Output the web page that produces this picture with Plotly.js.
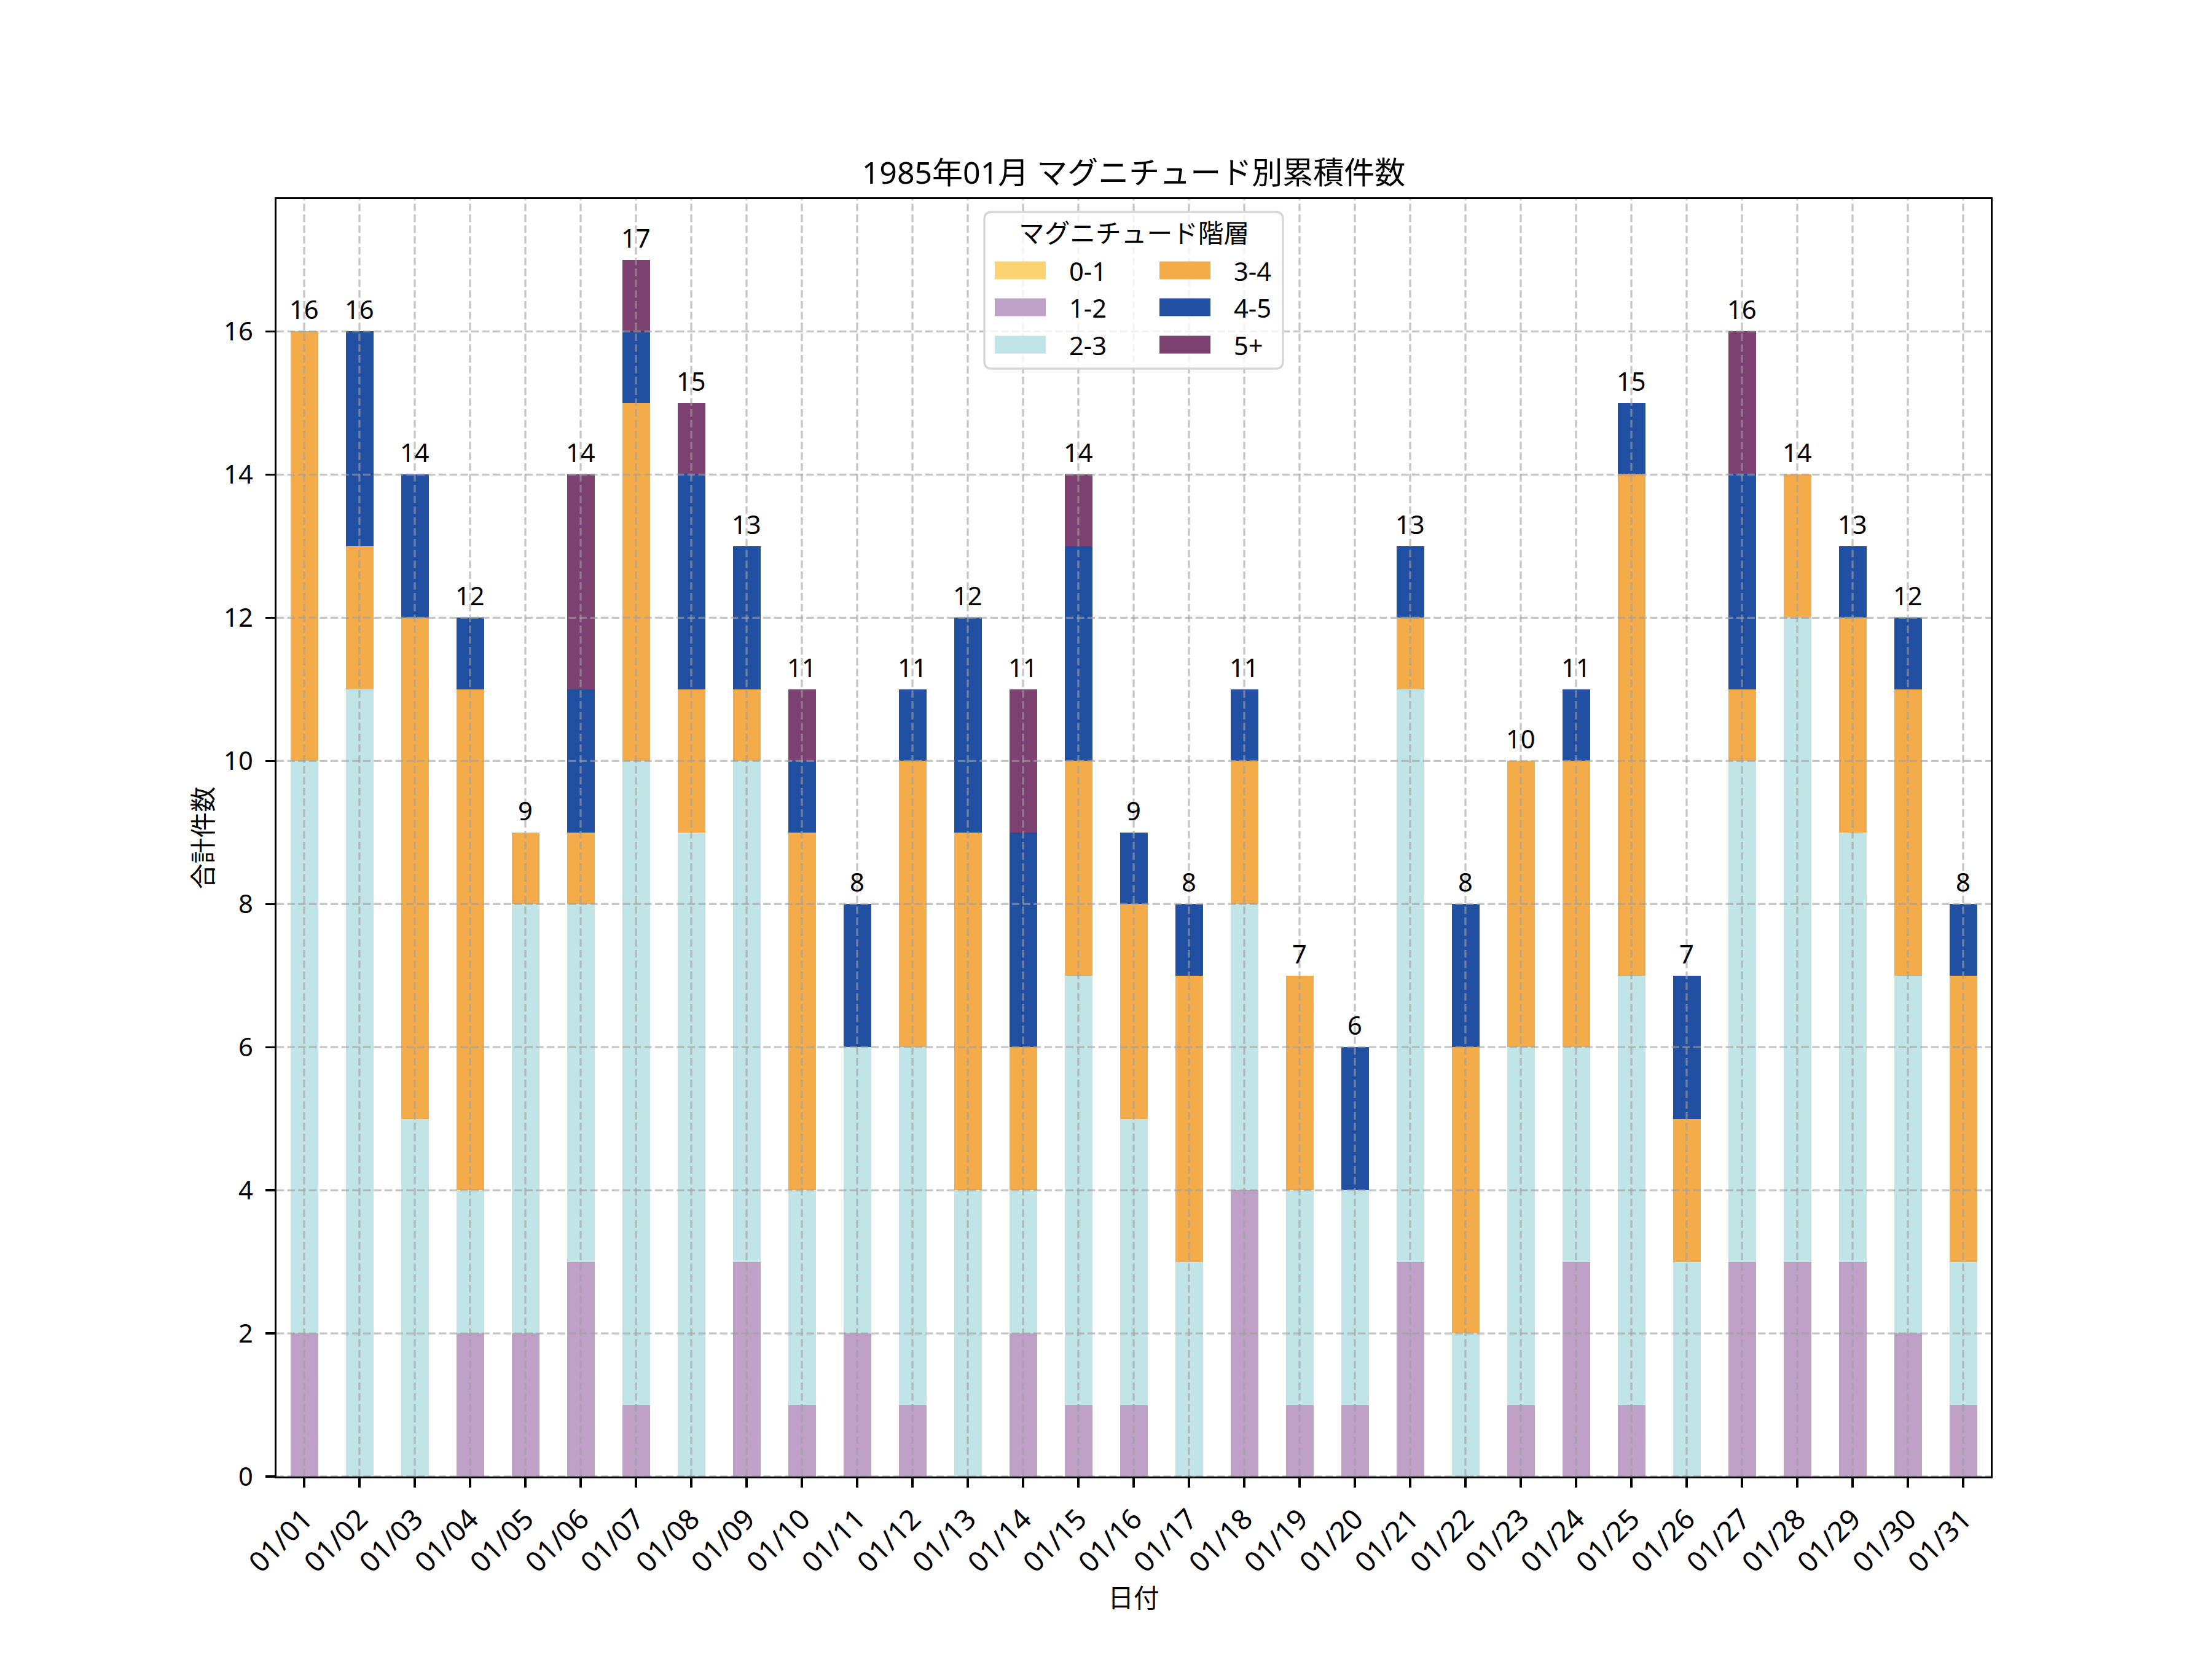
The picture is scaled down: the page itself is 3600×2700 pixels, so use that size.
<!DOCTYPE html>
<html>
<head>
<meta charset="utf-8">
<script src="https://cdn.plot.ly/plotly-3.0.1.min.js"></script>
<style>html,body{margin:0;padding:0;background:#fff;}#chart{width:3600px;height:2700px;}</style>
</head>
<body>
<div id="chart"></div>
<script>
const dates = ['01/01','01/02','01/03','01/04','01/05','01/06','01/07','01/08','01/09','01/10',
  '01/11','01/12','01/13','01/14','01/15','01/16','01/17','01/18','01/19','01/20',
  '01/21','01/22','01/23','01/24','01/25','01/26','01/27','01/28','01/29','01/30','01/31'];
const seriesNames = ['0-1','1-2','2-3','3-4','4-5','5+'];
const seriesColors = ['#FBD373','#BFA1C7','#C1E4E7','#F4AC4A','#2150A2','#7C4170'];
const mag01 = [0,0,0,0,0,0,0,0,0,0,0,0,0,0,0,0,0,0,0,0,0,0,0,0,0,0,0,0,0,0,0];
const mag12 = [2,0,0,2,2,3,1,0,3,1,2,1,0,2,1,1,0,4,1,1,3,0,1,3,1,0,3,3,3,2,1];
const mag23 = [8,11,5,2,6,5,9,9,7,3,4,5,4,2,6,4,3,4,3,3,8,2,5,3,6,3,7,9,6,5,2];
const mag34 = [6,2,7,7,1,1,5,2,1,5,0,4,5,2,3,3,4,2,3,0,1,4,4,4,7,2,1,2,3,4,4];
const mag45 = [0,3,2,1,0,2,1,3,2,1,2,1,3,3,3,1,1,1,0,2,1,2,0,1,1,2,3,0,1,1,1];
const mag5p = [0,0,0,0,0,3,1,1,0,1,0,0,0,2,1,0,0,0,0,0,0,0,0,0,0,0,2,0,0,0,0];
const yTicks = [0,2,4,6,8,10,12,14,16];
const titleText = '1985年01月 マグニチュード別累積件数';
const xTitle = '日付';
const yTitle = '合計件数';
const legendTitle = 'マグニチュード階層';

const FONT = '"Noto Sans", "Noto Sans CJK JP", sans-serif';
const FS = 41.7;
const W = 3600, H = 2700;
const L = 450, R = 3240, T = 324, B = 2403;
const PW = R - L, PH = B - T;
const px = x => (x - L) / PW;
const py = y => (B - y) / PH;

const allSeries = [mag01, mag12, mag23, mag34, mag45, mag5p];
const totals = dates.map((d, i) => allSeries.reduce((s, arr) => s + arr[i], 0));

const traces = allSeries.map((vals, k) => ({
  type: 'bar', x: dates, y: vals, name: seriesNames[k],
  marker: {color: seriesColors[k], line: {width: 0}},
  showlegend: false, hoverinfo: 'skip'
}));

const gridColor = 'rgba(160,160,160,0.6)';
const gridDash = '12.3px,5.3px';
const shapes = [];
dates.forEach((d, i) => shapes.push({type:'line', layer:'above', xref:'x', yref:'paper', x0:i, x1:i, y0:0, y1:1,
  line:{color:gridColor, width:3.3, dash:gridDash}}));
yTicks.forEach(v => shapes.push({type:'line', layer:'above', xref:'paper', yref:'y', x0:0, x1:1, y0:v, y1:v,
  line:{color:gridColor, width:3.3, dash:gridDash}}));

// legend frame (rounded)
const lx0 = 1602, lx1 = 2088, ly0 = 345, ly1 = 600, rr = 12;
const P = (x, y) => `${px(x)},${py(y)}`;
shapes.push({type:'path', layer:'above', xref:'paper', yref:'paper',
  path: `M ${P(lx0+rr,ly0)} L ${P(lx1-rr,ly0)} Q ${P(lx1,ly0)} ${P(lx1,ly0+rr)} L ${P(lx1,ly1-rr)} Q ${P(lx1,ly1)} ${P(lx1-rr,ly1)} L ${P(lx0+rr,ly1)} Q ${P(lx0,ly1)} ${P(lx0,ly1-rr)} L ${P(lx0,ly0+rr)} Q ${P(lx0,ly0)} ${P(lx0+rr,ly0)} Z`,
  fillcolor:'rgba(255,255,255,0.8)', line:{color:'#d6d6d6', width:3.3}});

const annotations = [];
// legend entries: column-major, 3 rows
const colSwX = [1619, 1887], colTxtX = [1738, 2006];
const rowY = [440, 500, 561];
seriesNames.forEach((n, k) => {
  const c = Math.floor(k / 3), r = k % 3;
  shapes.push({type:'rect', layer:'above', xref:'paper', yref:'paper',
    x0:px(colSwX[c]), x1:px(colSwX[c]+83), y0:py(rowY[r]-14.5), y1:py(rowY[r]+14.5),
    fillcolor:seriesColors[k], line:{width:0}});
  annotations.push({xref:'paper', yref:'paper', x:px(colTxtX[c]), y:py(rowY[r]), text:n,
    showarrow:false, xanchor:'left', yanchor:'middle', font:{family:FONT, size:FS, color:'#000'}});
});
annotations.push({xref:'paper', yref:'paper', x:px(1845), y:py(378), text:legendTitle,
  showarrow:false, xanchor:'center', yanchor:'middle', font:{family:FONT, size:FS, color:'#000'}});

// totals above bars
dates.forEach((d, i) => annotations.push({x:d, y:totals[i], xref:'x', yref:'y', text:String(totals[i]),
  showarrow:false, xanchor:'center', yanchor:'bottom', yshift:6, font:{family:FONT, size:FS, color:'#000'}}));

const layout = {
  width: W, height: H,
  margin: {l:L, r:W-R, t:T, b:H-B, pad:0},
  paper_bgcolor:'#fff', plot_bgcolor:'#fff',
  barmode:'stack', bargap:0.5,
  showlegend:false,
  font:{family:FONT, size:FS, color:'#000'},
  title:{text:titleText, x:0.5, xref:'paper', xanchor:'center', y:1-281/H, yanchor:'middle',
    font:{family:FONT, size:50, color:'#000'}},
  xaxis:{type:'category', range:[-0.5, 30.5], tickangle:-45, showgrid:false, zeroline:false,
    showline:true, mirror:true, linecolor:'#000', linewidth:3.3,
    ticks:'outside', ticklen:14.6, tickwidth:3.3, tickcolor:'#000', ticklabelstandoff:6,
    tickfont:{family:FONT, size:46, color:'#000'},
    title:{text:xTitle, standoff:0, font:{family:FONT, size:FS, color:'#000'}}},
  yaxis:{range:[0, 17.85], tickvals:yTicks, ticktext:yTicks.map(String), showgrid:false, zeroline:false,
    showline:true, mirror:true, linecolor:'#000', linewidth:3.3,
    ticks:'outside', ticklen:14.6, tickwidth:3.3, tickcolor:'#000', ticklabelstandoff:12,
    tickfont:{family:FONT, size:FS, color:'#000'},
    title:{text:yTitle, standoff:5, font:{family:FONT, size:FS, color:'#000'}}},
  shapes: shapes,
  annotations: annotations
};

Plotly.newPlot('chart', traces, layout, {displayModeBar:false, staticPlot:true});
</script>
</body>
</html>
